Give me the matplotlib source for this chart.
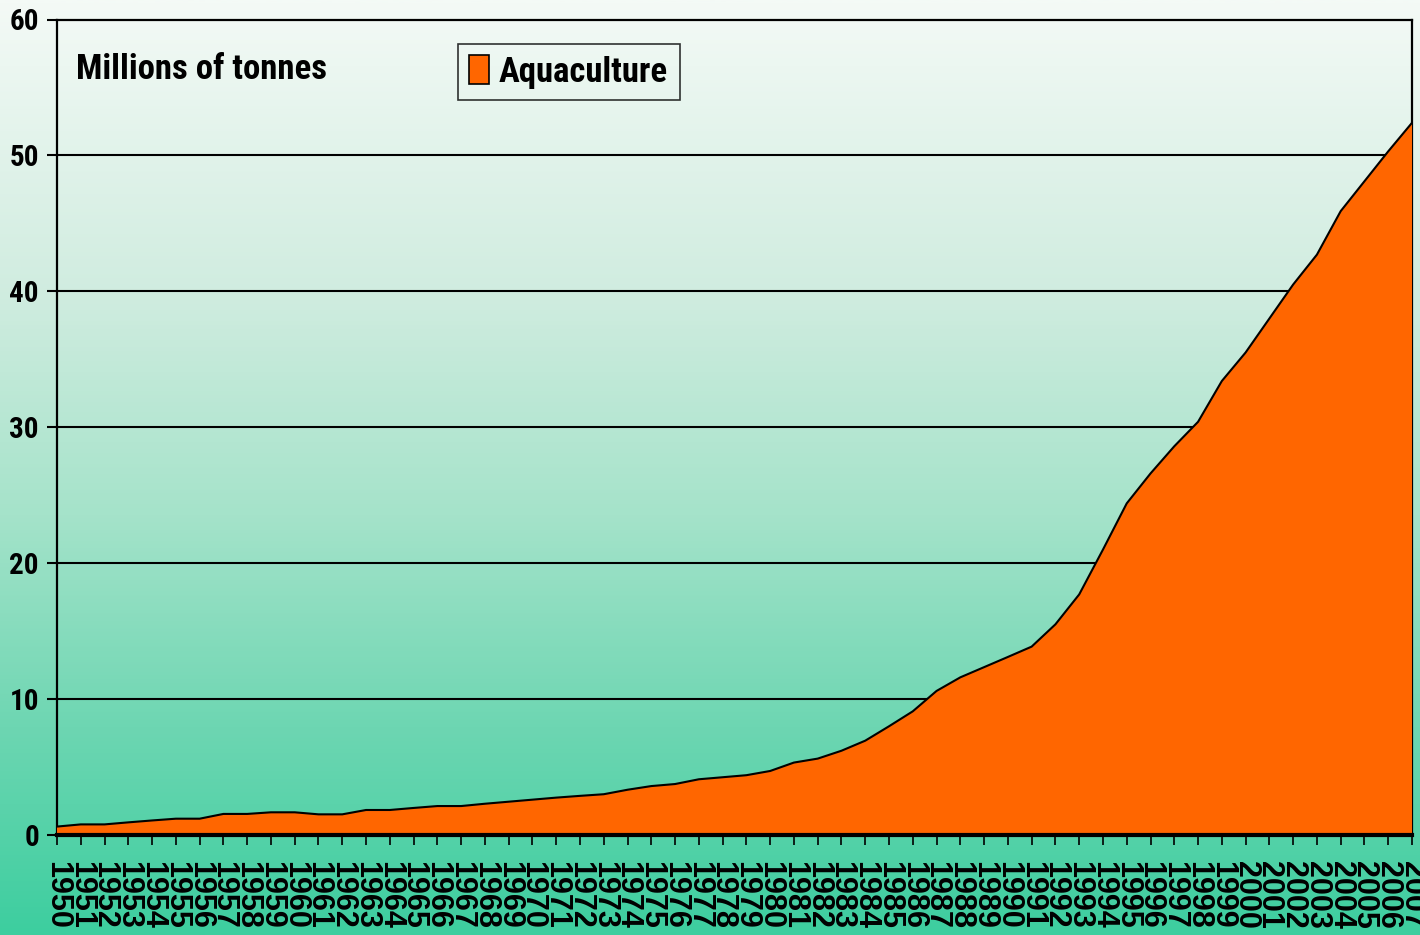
import numpy as np
import matplotlib
matplotlib.use("Agg")
import matplotlib.pyplot as plt
from matplotlib.colors import LinearSegmentedColormap

# ---- data ----
years = list(range(1950, 2008))
aquaculture = [0.62, 0.78, 0.78, 0.93, 1.07, 1.20, 1.20, 1.55, 1.55, 1.67,
               1.67, 1.52, 1.52, 1.84, 1.84, 1.99, 2.13, 2.13, 2.30, 2.45,
               2.60, 2.75, 2.88, 3.00, 3.33, 3.60, 3.75, 4.10, 4.25, 4.40,
               4.71, 5.33, 5.62, 6.20, 6.94, 8.00, 9.10, 10.60, 11.60, 12.35,
               13.10, 13.86, 15.50, 17.70, 21.00, 24.40, 26.60, 28.60, 30.40, 33.40,
               35.50, 38.00, 40.50, 42.70, 45.90, 48.10, 50.30, 52.40]
year_labels = [str(y) for y in years]
y_ticks = [0, 10, 20, 30, 40, 50, 60]
series_name = "Aquaculture"
unit_label = "Millions of tonnes"

COND = ["Roboto Condensed", "DejaVu Sans"]

W, H, DPI = 1420, 935, 100
fig = plt.figure(figsize=(W / DPI, H / DPI), dpi=DPI)

# background gradient
bg = fig.add_axes([0, 0, 1, 1], zorder=-10)
cmap = LinearSegmentedColormap.from_list(
    "bg", [(0.0, "#f4faf6"), (0.32, "#cfecdf"), (0.55, "#a5e3ca"),
           (0.78, "#6dd6b2"), (1.0, "#3dce9f")])
grad = np.linspace(0, 1, 512).reshape(-1, 1)
bg.imshow(grad, aspect="auto", cmap=cmap, extent=[0, 1, 0, 1], origin="upper")
bg.set_axis_off()

ax = fig.add_axes([57 / W, 1 - 835 / H, (1412 - 57) / W, (835 - 19.5) / H])
ax.set_facecolor("none")

x = np.arange(len(years))
ax.fill_between(x, aquaculture, 0, facecolor="#ff6600", edgecolor="none",
                zorder=3, label=series_name)
ax.plot(x, aquaculture, color="black", lw=1.5, zorder=4)

ax.set_xlim(0, len(years) - 1)
ax.set_ylim(0, 60)
ax.set_yticks(y_ticks)
for v in y_ticks[1:-1]:
    ax.axhline(v, color="black", lw=1.5, zorder=1)

ax.set_xticks(x)
ax.set_xticklabels(year_labels, rotation=-90, fontsize=22,
                   family=["Liberation Sans", "DejaVu Sans"], fontweight="bold",
                   va="top", ha="center")
ax.set_yticklabels([str(v) for v in y_ticks], fontsize=21,
                   family=COND, fontweight="bold")
ax.tick_params(axis="x", direction="out", length=7, width=1.2, pad=12)
ax.tick_params(axis="y", direction="out", length=7, width=1.5, pad=6)

for s in ["left", "top", "right"]:
    ax.spines[s].set_linewidth(1.6)
    ax.spines[s].set_color("black")
ax.spines["bottom"].set_linewidth(3)
ax.spines["bottom"].set_zorder(5)

ax.text(19 / 1355, 0.939, unit_label, transform=ax.transAxes, fontsize=25,
        family=COND, fontweight="bold", va="center", ha="left")

leg = ax.legend(loc="upper left", bbox_to_anchor=((458 - 57) / 1355, 1 - (44 - 19.5) / 815.5),
                prop={"family": COND, "weight": "bold", "size": 25},
                handlelength=0.55, handleheight=0.9, handletextpad=0.3,
                borderpad=0.33, borderaxespad=0, fancybox=False, frameon=True)
leg.get_frame().set_facecolor("none")
leg.get_frame().set_edgecolor("black")
leg.get_frame().set_linewidth(1.2)
for h in leg.legend_handles:
    h.set_edgecolor("black")
    h.set_linewidth(1.2)

fig.savefig("out.png", dpi=DPI)
